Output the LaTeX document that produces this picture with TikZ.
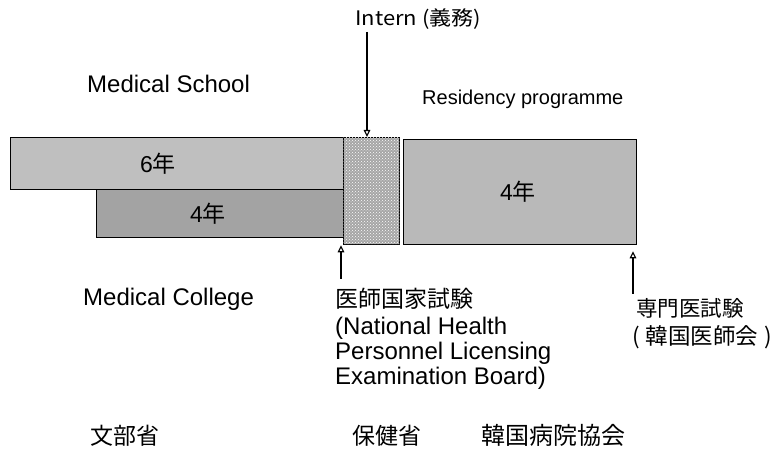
\documentclass[tikz,border=0pt]{standalone}
\usepackage{fontspec}
\setmainfont{Liberation Sans}
\newfontfamily\jp{Noto Sans CJK JP}
\usetikzlibrary{arrows.meta,patterns}
\begin{document}
\begin{tikzpicture}[x=1pt,y=-1pt,
  bar/.style={draw=black,line width=1.3pt,inner sep=0pt,anchor=north west},
  lbl/.style={inner sep=0pt,font=\fontsize{24}{28}\selectfont,anchor=base west},
  jlbl/.style={inner sep=0pt,font=\fontsize{23}{27}\jp,anchor=base west},
  inlbl/.style={inner sep=0pt,font=\fontsize{23}{27}\selectfont},
  arr/.style={line width=1.1pt,-{Triangle[open,length=7pt,width=6.5pt]}}]
\useasboundingbox (0,0) rectangle (780,454);
% bars
\node[bar,fill=gray!50,minimum width=333pt,minimum height=52pt] (b6) at (10,137) {};
\node[bar,fill=gray!72,minimum width=247pt,minimum height=48pt] (b4) at (96,189) {};
\node[bar,fill=gray!70,postaction={pattern=crosshatch dots,pattern color=white},minimum width=56pt,minimum height=107pt] (intbox) at (343,137) {};
\node[bar,fill=gray!55,minimum width=233pt,minimum height=105pt] (res) at (403,139) {};
% bar labels
\node[inlbl] (t6) at (158,164) {6{\jp 年}};
\node[inlbl] (t4) at (208,214) {4{\jp 年}};
\node[inlbl] (tr) at (518,192) {4{\jp 年}};
% top labels
\node[inner sep=0pt,anchor=base west,font=\fontsize{20}{24}\jp] (il) at (355,26) {\scalebox{1.1}[1]{Intern (義務)}};
\node[lbl] (ms) at (87,93) {Medical School};
\node[lbl,font=\fontsize{20}{24}\selectfont] (rp) at (422,105) {Residency programme};
% lower labels
\node[lbl] (mc) at (83,306) {Medical College};
\node[jlbl] (ex1) at (335,308) {医師国家試験};
\node[lbl] (ex2) at (335,335) {(National Health};
\node[lbl] (ex3) at (335,360) {Personnel Licensing};
\node[lbl] (ex4) at (335,385) {Examination Board)};
\node[jlbl,font=\fontsize{21.5}{25}\jp] (sp1) at (636,317) {専門医試験};
\node[jlbl,font=\fontsize{22.5}{26}\jp] (sp2) at (632,345) {(\hspace{6pt}韓国医師会\hspace{6pt})};
% bottom
\node[jlbl] (m1) at (90,445) {文部省};
\node[jlbl] (m2) at (352,445) {保健省};
\node[jlbl,font=\fontsize{24}{28}\jp] (m3) at (481,445) {韓国病院協会};
% arrows
\coordinate (ia) at (367,32);
\draw[arr] (ia) -- (ia |- intbox.north);
\coordinate (ea) at (341,279);
\draw[arr] (ea) -- (ea |- intbox.south);
\coordinate (ra) at (633,294);
\draw[arr] (ra) -- ([yshift=-6pt]ra |- res.south);
\end{tikzpicture}
\end{document}
